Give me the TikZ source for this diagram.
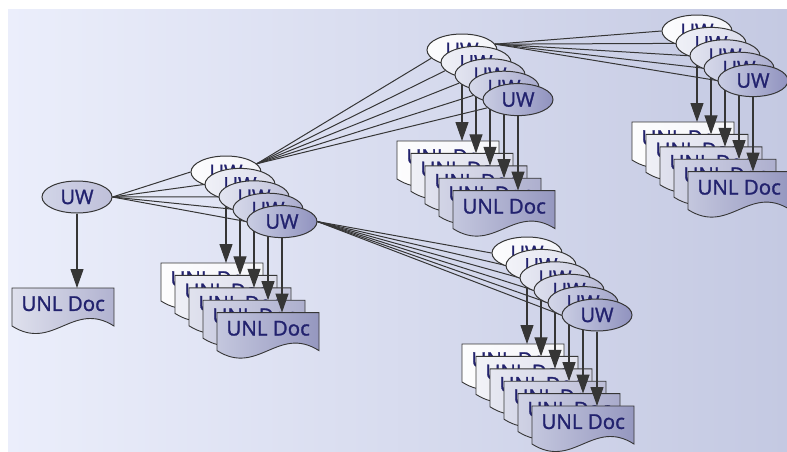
\documentclass[tikz,border=0pt]{standalone}
\usepackage{fontspec}
\setmainfont{Open Sans}
\newfontfamily\medfont{Open Sans}[FakeBold=1.3]
\usetikzlibrary{arrows.meta,shapes.geometric}
\definecolor{txt}{HTML}{22226E}
\definecolor{edge}{HTML}{363636}
\definecolor{bgL}{HTML}{EBEEFB}
\definecolor{bgR}{HTML}{C4C9E2}
\definecolor{elL}{HTML}{C9CDE3}
\definecolor{elR}{HTML}{8A8CBB}
\definecolor{dcL}{HTML}{C4C7DE}
\definecolor{dcR}{HTML}{9092BC}
\pgfdeclarelayer{back}
\pgfdeclarelayer{bg}
\pgfsetlayers{back,bg,main}
\tikzset{
  uw/.style={ellipse, draw=edge, line width=1pt, minimum width=70pt, minimum height=32pt,
    inner sep=0pt, font=\medfont\fontsize{20}{24}\selectfont, text=txt},
  docbase/.style={rectangle, minimum width=102pt, minimum height=31pt, inner sep=0pt,
    anchor=north west, font=\medfont\fontsize{20.5}{24}\selectfont, text=txt},
  docshape/.style={draw=edge, line width=0.9pt},
  fan/.style={draw=edge, line width=1pt},
  down/.style={draw=edge, line width=1.1pt, -{Triangle[width=13pt,length=19pt]}},
}
\begin{document}
\begin{tikzpicture}[x=1pt,y=-1pt]
\useasboundingbox (0,0) rectangle (787,451);
\clip (0,0) rectangle (787,451);
\begin{pgfonlayer}{back}
\fill[left color=bgL, right color=bgR] (8,9) rectangle (787,451);
\end{pgfonlayer}
% root
\node[uw, left color=elL!85!white, right color=elR!55!white] (R) at (77,197) {UW};
% stacks of UW ellipses
\foreach \s/\cx/\cy/\n in {a/226/172/5, b/462/50/5, c/697/31/5, d/527/253/6}{
  \foreach \i in {1,...,\n}{
    \pgfmathsetmacro\x{\cx+14*(\i-1)}
    \pgfmathsetmacro\y{\cy+12.4*(\i-1)}
    \pgfmathtruncatemacro\p{6+94*(\i-1)/(\n-1)}
    \node[uw, left color=elL!\p!white, right color=elR!\p!white!90!elL] (e\s\i) at (\x,\y) {UW};
  }
}
\begin{pgfonlayer}{bg}
% fan connectors
\foreach \i in {1,...,5} \draw[fan] (R.east) -- (ea\i.west);
\foreach \i in {1,...,5} \draw[fan] (ea1.15) -- (eb\i.195);
\foreach \i in {1,...,6} \draw[fan] (ea5.east) -- (ed\i.west);
\foreach \i in {1,...,5} \draw[fan] (eb1.10) -- (ec\i.west);
% root document
\draw[docshape, left color=dcL!55!white, right color=dcR!70!white]
  (12,288) -- ++(102,0) -- ++(0,38) .. controls +(-41,-26) and +(41,26) .. ++(-102,0) -- cycle;
\node[docbase] (D) at (12,288) {UNL Doc};
\draw[down] (R.south) -- (R.south |- D.north);
% stacked documents
\foreach \s/\cx/\cy/\n in {a/226/172/5, b/462/50/5, c/697/31/5, d/527/253/6}{
  \foreach \i in {1,...,\n}{
    \pgfmathsetmacro\x{\cx+14*(\i-1)-65}
    \pgfmathsetmacro\y{\cy+12.4*(\i-1)+91}
    \pgfmathtruncatemacro\p{4+96*(\i-1)/(\n-1)}
    \draw[docshape, left color=dcL!\p!white, right color=dcR!\p!white!90!dcL]
      (\x,\y) -- ++(102,0) -- ++(0,38) .. controls +(-41,-26) and +(41,26) .. ++(-102,0) -- cycle;
    \node[docbase] (d\s\i) at (\x,\y) {UNL Doc};
  }
  \foreach \i in {1,...,\n}{
    \draw[down] (e\s\i.south) -- (e\s\i.south |- d\s\i.north);
  }
}
\end{pgfonlayer}
\end{tikzpicture}
\end{document}
